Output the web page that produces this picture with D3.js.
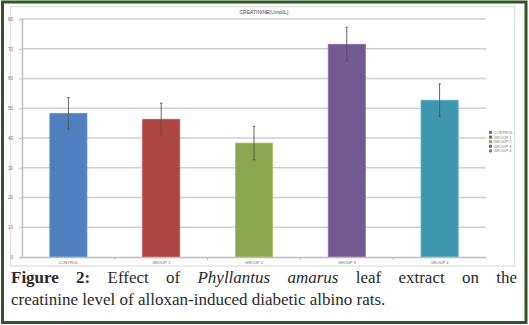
<!DOCTYPE html>
<html><head><meta charset="utf-8">
<script src="https://cdn.jsdelivr.net/npm/d3@7"></script>
<style>body{margin:0;background:#fff}svg{display:block}</style>
</head><body>
<script>
const categories = ["CONTROL", "GROUP 1", "GROUP 2", "GROUP 3", "GROUP 4"];
const values = [48.3, 46.3, 38.3, 71.5, 52.7];
const errors = [5.3, 5.4, 5.6, 5.7, 5.5];
const colors = ["#4F7FBE", "#AD4542", "#8AA64F", "#735A92", "#3F97AE"];
const yTicks = [0, 10, 20, 30, 40, 50, 60, 70, 80];
const title = "CREATININE(Umol/L)";

const W = 529, H = 325;
const svg = d3.select("body").append("svg").attr("width", W).attr("height", H);

// outer green frame
svg.append("rect").attr("x", 2.5).attr("y", 2).attr("width", 523.5).attr("height", 320.5)
  .attr("fill", "#fff").attr("stroke", "#2F5529").attr("stroke-width", 3);
// inner chart box
svg.append("rect").attr("x", 10.5).attr("y", 6.5).attr("width", 504).attr("height", 259.5)
  .attr("fill", "#fff").attr("stroke", "#e4e4e4").attr("stroke-width", 1.5);

const x0 = 22, x1 = 486, yTop = 19, yBot = 257;
const x = d3.scaleBand().domain(categories).range([x0, x1]).paddingInner(0.6).paddingOuter(0.3);
const y = d3.scaleLinear().domain([0, 80]).range([yBot, yTop]);

// gridlines
svg.append("g").selectAll("line").data(yTicks.filter(d => d > 0)).join("line")
  .attr("x1", x0).attr("x2", x1).attr("y1", d => y(d)).attr("y2", d => y(d))
  .attr("stroke", "#cfcfcf").attr("stroke-width", 1.5);

// y axis
const yAxis = d3.axisLeft(y).tickValues(yTicks).tickSize(3).tickPadding(6);
const gy = svg.append("g").attr("transform", `translate(${x0},0)`).call(yAxis);
gy.select(".domain").attr("stroke", "#bdbdbd").attr("stroke-width", 1.5);
gy.selectAll(".tick line").attr("stroke", "#bdbdbd");
gy.selectAll("text").attr("font-size", 4.5).attr("fill", "#777").attr("font-family", "Arial, sans-serif");

// bars
svg.append("g").selectAll("rect").data(categories).join("rect")
  .attr("x", d => x(d)).attr("width", x.bandwidth())
  .attr("y", (d, i) => y(values[i])).attr("height", (d, i) => yBot - y(values[i]))
  .attr("fill", (d, i) => colors[i])
  .attr("stroke", (d, i) => d3.color(colors[i]).brighter(0.5)).attr("stroke-width", 0.8);

// x axis
const band = (x1 - x0) / categories.length;
const xAxis = d3.axisBottom(x).tickSize(0).tickPadding(4);
const gx = svg.append("g").attr("transform", `translate(0,${yBot})`).call(xAxis);
gx.select(".domain").attr("stroke", "#bdbdbd").attr("stroke-width", 1.5);
gx.selectAll("text").attr("font-size", 4).attr("fill", "#666").attr("font-family", "Arial, sans-serif");
svg.append("g").selectAll("line").data(d3.range(1, categories.length)).join("line")
  .attr("x1", i => x0 + i * band).attr("x2", i => x0 + i * band)
  .attr("y1", yBot).attr("y2", yBot + 3).attr("stroke", "#bdbdbd");

// error bars
const eb = svg.append("g").attr("stroke", "#555").attr("stroke-width", 0.9);
categories.forEach((c, i) => {
  const cx = x(c) + x.bandwidth() / 2;
  eb.append("line").attr("x1", cx).attr("x2", cx).attr("y1", y(values[i] + errors[i])).attr("y2", y(values[i] - errors[i]));
  eb.append("line").attr("x1", cx - 1.2).attr("x2", cx + 1.2).attr("y1", y(values[i] + errors[i])).attr("y2", y(values[i] + errors[i]));
  eb.append("line").attr("x1", cx - 1.2).attr("x2", cx + 1.2).attr("y1", y(values[i] - errors[i])).attr("y2", y(values[i] - errors[i]));
});

// title
svg.append("text").attr("x", 264).attr("y", 14).attr("text-anchor", "middle")
  .attr("font-size", 5).attr("fill", "#444").attr("font-family", "Arial, sans-serif").text(title);

// legend
const lg = svg.append("g").attr("transform", "translate(489,131)");
categories.forEach((c, i) => {
  lg.append("rect").attr("x", 0).attr("y", i * 4.6).attr("width", 3).attr("height", 3).attr("fill", colors[i]);
  lg.append("text").attr("x", 4.5).attr("y", i * 4.6 + 3).attr("font-size", 4).attr("fill", "#777")
    .attr("font-family", "Arial, sans-serif").text(c);
});

// caption
const cap = svg.append("g").attr("font-family", "'Liberation Serif', 'DejaVu Serif', serif").attr("font-size", 17).attr("fill", "#2a2a2a");
const line1 = ["Figure", "2:", "Effect", "of", "Phyllantus", "amarus", "leaf", "extract", "on", "the"];
const styles = [ "b", "b", "", "", "i", "i", "", "", "", ""];
const tmp = [];
line1.forEach((w, i) => {
  const t = cap.append("text").attr("y", 283).text(w)
    .attr("font-weight", styles[i] === "b" ? "bold" : null)
    .attr("font-style", styles[i] === "i" ? "italic" : null);
  tmp.push(t);
});
const widths = tmp.map(t => t.node().getComputedTextLength());
const left = 11, right = 517;
const gap = (right - left - d3.sum(widths)) / (line1.length - 1);
let cx = left;
tmp.forEach((t, i) => { t.attr("x", cx); cx += widths[i] + gap; });
cap.append("text").attr("x", left).attr("y", 305).text("creatinine level of alloxan-induced diabetic albino rats.");
</script>
</body></html>
